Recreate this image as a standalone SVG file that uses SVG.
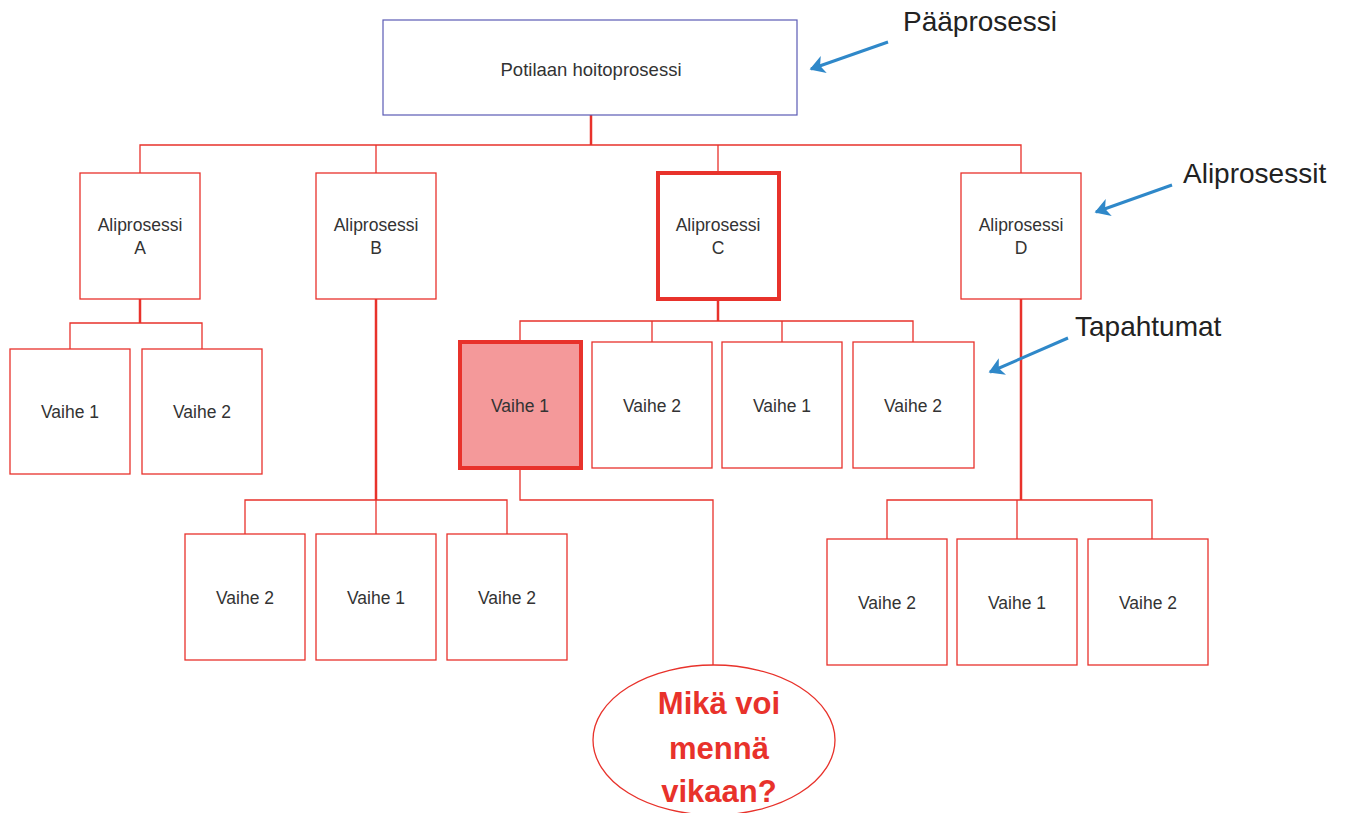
<svg xmlns="http://www.w3.org/2000/svg" width="1349" height="813" viewBox="0 0 1349 813">
  <style>
    .box { fill: #ffffff; stroke: #e8322b; stroke-width: 1.3; }
    .hl { fill: #ffffff; stroke: #e8322b; stroke-width: 4; }
    .hlfill { fill: #f4999a; stroke: #e8322b; stroke-width: 4; }
    .main { fill: #ffffff; stroke: #5b5bb5; stroke-width: 1.2; }
    .lbl { font-family: "Liberation Sans", Arial, sans-serif; font-size: 17.5px; fill: #333333; text-anchor: middle; }
    .top { font-size: 18.5px; }
    .note { font-family: "Liberation Sans", Arial, sans-serif; font-size: 28px; fill: #222222; }
    .q { font-family: "Liberation Sans", Arial, sans-serif; font-size: 31px; font-weight: bold; fill: #e8322b; text-anchor: middle; }
    .wire { fill: none; stroke: #e8322b; stroke-width: 1.3; }
    .wire2 { fill: none; stroke: #e8322b; stroke-width: 2.5; }
    .ann { fill: none; stroke: #2f88c9; stroke-width: 3; }
  </style>
  <defs>
    <marker id="ah" markerWidth="6" markerHeight="6" refX="4.5" refY="3" orient="auto" markerUnits="strokeWidth">
      <path d="M0,0 L5,3 L0,6 L1.3,3 Z" fill="#2f88c9"/>
    </marker>
  </defs>
  <rect width="1349" height="813" fill="#ffffff"/>

  <g id="connectors">
    <!-- main process to sub-processes -->
    <path class="wire2" d="M591,115 V145"/>
    <path class="wire" d="M140,173 V145 H1021 V173 M376,145 V173 M718,145 V173"/>
    <!-- A -->
    <path class="wire2" d="M140,299 V323"/>
    <path class="wire" d="M70,349 V323 H202 V349"/>
    <!-- B -->
    <path class="wire2" d="M376,299 V500"/>
    <path class="wire" d="M245,534 V500 H507 V534 M376,500 V534"/>
    <!-- C -->
    <path class="wire2" d="M718,299 V321"/>
    <path class="wire" d="M520,342 V321 H913 V342 M652,321 V342 M782,321 V342"/>
    <!-- C / Vaihe 1 to question -->
    <path class="wire" d="M520,468 V500 H713 V665"/>
    <!-- D -->
    <path class="wire2" d="M1021,299 V500"/>
    <path class="wire" d="M887,539 V500 H1152 V539 M1017,500 V539"/>
  </g>

  <g id="paaprosessi">
    <rect class="main" x="383" y="20" width="414" height="95"/>
    <text class="lbl top" x="591" y="76">Potilaan hoitoprosessi</text>
  </g>

  <g id="aliprosessi-a">
    <rect class="box" x="80" y="173" width="120" height="126"/>
    <text class="lbl" x="140" y="231">Aliprosessi</text>
    <text class="lbl" x="140" y="254">A</text>
  </g>
  <g id="aliprosessi-b">
    <rect class="box" x="316" y="173" width="120" height="126"/>
    <text class="lbl" x="376" y="231">Aliprosessi</text>
    <text class="lbl" x="376" y="254">B</text>
  </g>
  <g id="aliprosessi-c">
    <rect class="hl" x="658" y="173" width="121" height="126"/>
    <text class="lbl" x="718" y="231">Aliprosessi</text>
    <text class="lbl" x="718" y="254">C</text>
  </g>
  <g id="aliprosessi-d">
    <rect class="box" x="961" y="173" width="120" height="126"/>
    <text class="lbl" x="1021" y="231">Aliprosessi</text>
    <text class="lbl" x="1021" y="254">D</text>
  </g>

  <g id="a-vaihe1">
    <rect class="box" x="10" y="349" width="120" height="125"/>
    <text class="lbl" x="70" y="418">Vaihe 1</text>
  </g>
  <g id="a-vaihe2">
    <rect class="box" x="142" y="349" width="120" height="125"/>
    <text class="lbl" x="202" y="418">Vaihe 2</text>
  </g>

  <g id="b-vaihe2a">
    <rect class="box" x="185" y="534" width="120" height="126"/>
    <text class="lbl" x="245" y="604">Vaihe 2</text>
  </g>
  <g id="b-vaihe1">
    <rect class="box" x="316" y="534" width="120" height="126"/>
    <text class="lbl" x="376" y="604">Vaihe 1</text>
  </g>
  <g id="b-vaihe2b">
    <rect class="box" x="447" y="534" width="120" height="126"/>
    <text class="lbl" x="507" y="604">Vaihe 2</text>
  </g>

  <g id="c-vaihe1">
    <rect class="hlfill" x="460" y="342" width="121" height="126"/>
    <text class="lbl" x="520" y="412">Vaihe 1</text>
  </g>
  <g id="c-vaihe2a">
    <rect class="box" x="592" y="342" width="120" height="126"/>
    <text class="lbl" x="652" y="412">Vaihe 2</text>
  </g>
  <g id="c-vaihe1b">
    <rect class="box" x="722" y="342" width="120" height="126"/>
    <text class="lbl" x="782" y="412">Vaihe 1</text>
  </g>
  <g id="c-vaihe2b">
    <rect class="box" x="853" y="342" width="121" height="126"/>
    <text class="lbl" x="913" y="412">Vaihe 2</text>
  </g>

  <g id="d-vaihe2a">
    <rect class="box" x="827" y="539" width="120" height="126"/>
    <text class="lbl" x="887" y="609">Vaihe 2</text>
  </g>
  <g id="d-vaihe1">
    <rect class="box" x="957" y="539" width="120" height="126"/>
    <text class="lbl" x="1017" y="609">Vaihe 1</text>
  </g>
  <g id="d-vaihe2b">
    <rect class="box" x="1088" y="539" width="120" height="126"/>
    <text class="lbl" x="1148" y="609">Vaihe 2</text>
  </g>

  <g id="kysymys">
    <ellipse cx="714" cy="740" rx="121" ry="75" fill="#ffffff" stroke="#e8322b" stroke-width="1.3"/>
    <text class="q" x="719" y="714">Mikä voi</text>
    <text class="q" x="719" y="759">mennä</text>
    <text class="q" x="719" y="802">vikaan?</text>
  </g>

  <g id="huomautukset">
    <text class="note" x="903" y="31">Pääprosessi</text>
    <path class="ann" d="M888,42 L811,69" marker-end="url(#ah)"/>
    <text class="note" x="1183" y="183">Aliprosessit</text>
    <path class="ann" d="M1172,185 L1096,212" marker-end="url(#ah)"/>
    <text class="note" x="1075" y="336">Tapahtumat</text>
    <path class="ann" d="M1068,338 L990,372" marker-end="url(#ah)"/>
  </g>
</svg>
